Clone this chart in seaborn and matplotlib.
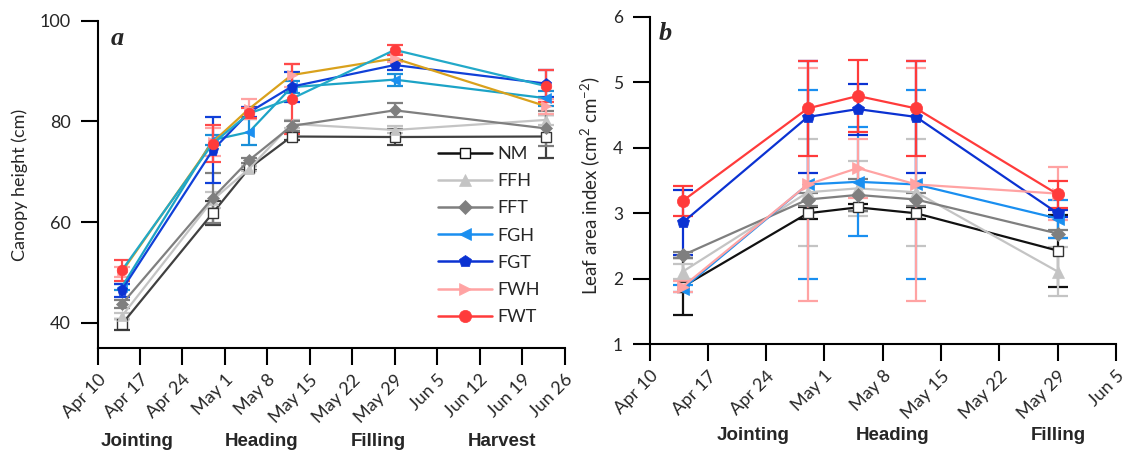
import numpy as np
import pandas as pd
import matplotlib
matplotlib.use('Agg')
import matplotlib.pyplot as plt
import matplotlib.dates as mdates
from matplotlib.lines import Line2D
import seaborn as sns

# ---------------- data ----------------
series = ['NM', 'FFH', 'FFT', 'FGH', 'FGT', 'FWH', 'FWT']

dates_a = ['2018-04-14', '2018-04-29', '2018-05-05', '2018-05-12', '2018-05-29', '2018-06-23']
dates_b = ['2018-04-14', '2018-04-29', '2018-05-05', '2018-05-12', '2018-05-29']

# panel a: canopy height (cm)
height_NM = [39.7, 61.8, 70.7, 77.0, 76.9, 77.0]
height_FFH = [41.3, 64.4, 70.6, 79.5, 78.3, 80.3]
height_FFT = [43.7, 64.8, 72.3, 79.1, 82.2, 78.6]
height_FGH = [47.1, 76.3, 77.9, 86.8, 88.3, 84.6]
height_FGT = [46.5, 74.3, 81.8, 86.9, 91.2, 87.5]
height_FWH = [50.1, 75.9, 82.5, 89.2, 92.5, 83.0]
height_FWT = [50.4, 75.6, 81.6, 84.5, 94.2, 87.0]

height_err_NM = [1.15, 2.3, 0.4, 0.6, 1.5, 4.3]
height_err_FFH = [0.6, 1.5, 0.5, 0.8, 0.7, 1.0]
height_err_FFT = [0.8, 4.9, 0.5, 1.0, 1.4, 3.4]
height_err_FGH = [0.6, 1.0, 2.5, 1.2, 1.2, 1.5]
height_err_FGT = [1.3, 6.5, 1.0, 3.0, 1.0, 2.7]
height_err_FWH = [1.0, 2.7, 2.0, 2.3, 0.8, 1.5]
height_err_FWT = [2.0, 3.6, 1.0, 7.0, 1.0, 3.2]

# panel b: leaf area index
lai_NM = [1.88, 3.00, 3.09, 3.00, 2.43]
lai_FFH = [2.11, 3.32, 3.38, 3.32, 2.11]
lai_FFT = [2.36, 3.21, 3.28, 3.21, 2.69]
lai_FGH = [1.85, 3.44, 3.48, 3.44, 2.92]
lai_FGT = [2.86, 4.47, 4.59, 4.47, 3.00]
lai_FWH = [1.88, 3.44, 3.69, 3.44, 3.30]
lai_FWT = [3.19, 4.60, 4.79, 4.60, 3.29]

lai_err_NM = [0.43, 0.09, 0.05, 0.09, 0.55]
lai_err_FFH = [0.12, 0.82, 0.42, 0.82, 0.38]
lai_err_FFT = [0.05, 0.10, 0.25, 0.10, 0.06]
lai_err_FGH = [0.05, 1.44, 0.83, 1.44, 0.29]
lai_err_FGT = [0.50, 0.86, 0.39, 0.86, 0.05]
lai_err_FWH = [0.08, 1.78, 0.45, 1.78, 0.40]
lai_err_FWT = [0.23, 0.73, 0.55, 0.73, 0.21]

phases_a = ['Jointing', 'Heading', 'Filling', 'Harvest']
phases_b = ['Jointing', 'Heading', 'Filling']

height_vals = [height_NM, height_FFH, height_FFT, height_FGH, height_FGT, height_FWH, height_FWT]
height_errs = [height_err_NM, height_err_FFH, height_err_FFT, height_err_FGH,
               height_err_FGT, height_err_FWH, height_err_FWT]
lai_vals = [lai_NM, lai_FFH, lai_FFT, lai_FGH, lai_FGT, lai_FWH, lai_FWT]
lai_errs = [lai_err_NM, lai_err_FFH, lai_err_FFT, lai_err_FGH, lai_err_FGT, lai_err_FWH, lai_err_FWT]

def long_df(dates, vals, errs):
    rows = []
    for s, v, e in zip(series, vals, errs):
        for d, vv, ee in zip(dates, v, e):
            rows.append({'date': pd.Timestamp(d), 'series': s, 'value': vv, 'err': ee})
    return pd.DataFrame(rows)

df_a = long_df(dates_a, height_vals, height_errs)
df_b = long_df(dates_b, lai_vals, lai_errs)

# ---------------- styles ----------------
marker = {'NM': 's', 'FFH': '^', 'FFT': 'D', 'FGH': '<', 'FGT': 'p', 'FWH': '>', 'FWT': 'o'}
mcolor = {'NM': '#111111', 'FFH': '#c4c4c4', 'FFT': '#7f7f7f', 'FGH': '#1a8ff0',
          'FGT': '#0b32d2', 'FWH': '#ffa3a3', 'FWT': '#ff3b3b'}
line_a = {'NM': '#404040', 'FFH': '#c4c4c4', 'FFT': '#7f7f7f', 'FGH': '#1ca3c6',
          'FGT': '#1040d8', 'FWH': '#d9a11c', 'FWT': '#22a9c9'}
err_a = {'NM': '#404040', 'FFH': '#c4c4c4', 'FFT': '#7f7f7f', 'FGH': '#1a8fd8',
         'FGT': '#1040d8', 'FWH': '#ffa3a3', 'FWT': '#ff4a4a'}
msize = {'NM': 7, 'FFH': 8, 'FFT': 6.5, 'FGH': 8, 'FGT': 8.5, 'FWH': 8, 'FWT': 8}

sns.set_style('ticks')
plt.rcParams['font.family'] = ['Lato', 'DejaVu Sans']
plt.rcParams['mathtext.fontset'] = 'custom'
plt.rcParams['mathtext.rm'] = 'Lato'
plt.rcParams['mathtext.it'] = 'Lato:italic'
plt.rcParams['mathtext.bf'] = 'Lato:bold'

W, H = 1131, 451
fig = plt.figure(figsize=(W / 100, H / 100), dpi=100)

def px_axes(l, t, r, b):
    return fig.add_axes([l / W, 1 - b / H, (r - l) / W, (b - t) / H])

ax_a = px_axes(97.5, 20.7, 564.5, 348.0)
ax_b = px_axes(649.5, 16.7, 1116.0, 344.3)

def draw(ax, df, line_colors, err_colors, ms_scale, capsize):
    for s in series:
        sub = df[df['series'] == s]
        ax.errorbar(sub['date'], sub['value'], yerr=sub['err'], fmt='none',
                    ecolor=err_colors[s], elinewidth=1.6, capsize=capsize, capthick=1.6, zorder=2)
        face = 'white' if s == 'NM' else mcolor[s]
        sns.lineplot(data=sub, x='date', y='value', ax=ax, color=line_colors[s],
                     linewidth=1.6, marker=marker[s], markersize=msize[s] * ms_scale,
                     markerfacecolor=face, markeredgecolor=mcolor[s] if s != 'NM' else '#333333',
                     markeredgewidth=1.0 if s == 'NM' else 0.5, zorder=3)

draw(ax_a, df_a, line_a, err_a, 0.95, 5.5)
draw(ax_b, df_b, mcolor, mcolor, 1.1, 7)

def style_axis(ax, start, end, yticks, ylim, ylab_size):
    ax.set_xlim(pd.Timestamp(start), pd.Timestamp(end))
    ax.set_ylim(*ylim)
    ax.set_xticks(pd.date_range(start, end, freq='7D'))
    ax.xaxis.set_major_formatter(mdates.DateFormatter('%b %-d'))
    ax.set_yticks(yticks)
    ax.set_xlabel('')
    ax.set_ylabel('')
    for sp in ['top', 'right']:
        ax.spines[sp].set_visible(False)
    for sp in ['left', 'bottom']:
        ax.spines[sp].set_linewidth(1.5)
        ax.spines[sp].set_color('black')
    ax.tick_params(axis='both', length=12, width=1.5, color='black', direction='out')
    ax.tick_params(axis='y', labelsize=ylab_size, pad=7)
    ax.tick_params(axis='x', labelsize=13, pad=5)
    for lab in ax.get_xticklabels():
        lab.set_rotation(45)
        lab.set_ha('right')
        lab.set_rotation_mode('anchor')

style_axis(ax_a, '2018-04-10', '2018-06-26', [40, 60, 80, 100], (35, 100), 13)
style_axis(ax_b, '2018-04-10', '2018-06-05', [1, 2, 3, 4, 5, 6], (1, 6), 12.5)

# axis labels
fig.text(20 / W, 1 - 184.5 / H, 'Canopy height (cm)', rotation=90, ha='center', va='center', fontsize=13)
fig.text(590 / W, 1 - 186 / H, 'Leaf area index (cm$^{\\mathrm{2}}$ cm$^{\\mathrm{-2}}$)',
         rotation=90, ha='center', va='center', fontsize=13.5)

# panel letters
fig.text(111 / W, 1 - 45 / H, 'a', fontsize=19, fontweight='bold', fontstyle='italic',
         family='Liberation Serif', ha='left', va='baseline')
fig.text(659 / W, 1 - 40 / H, 'b', fontsize=19, fontweight='bold', fontstyle='italic',
         family='Liberation Serif', ha='left', va='baseline')

# phase labels
for name, xc in zip(phases_a, [136.7, 261.7, 378, 501.7]):
    fig.text(xc / W, 1 - 446.5 / H, name, fontsize=13.5, fontweight='bold',
             family='Liberation Sans', ha='center', va='baseline')
for name, xc in zip(phases_b, [753, 893, 1058]):
    fig.text(xc / W, 1 - 440.3 / H, name, fontsize=13.5, fontweight='bold',
             family='Liberation Sans', ha='center', va='baseline')

# legend (panel a)
handles = []
for s in series:
    face = 'white' if s == 'NM' else mcolor[s]
    handles.append(Line2D([], [], color=mcolor[s], linewidth=1.8, marker=marker[s],
                          markersize=msize[s] * 1.1, markerfacecolor=face,
                          markeredgecolor=mcolor[s] if s != 'NM' else '#111111',
                          markeredgewidth=1.0 if s == 'NM' else 0.5))
fig.legend(handles, series, loc='upper left', bbox_to_anchor=(438 / W, 1 - 146 / H),
           bbox_transform=fig.transFigure, frameon=False, borderpad=0, borderaxespad=0,
           handlelength=3.0, handletextpad=0.3, labelspacing=0.62, fontsize=13)

fig.savefig('out.png', dpi=100)
